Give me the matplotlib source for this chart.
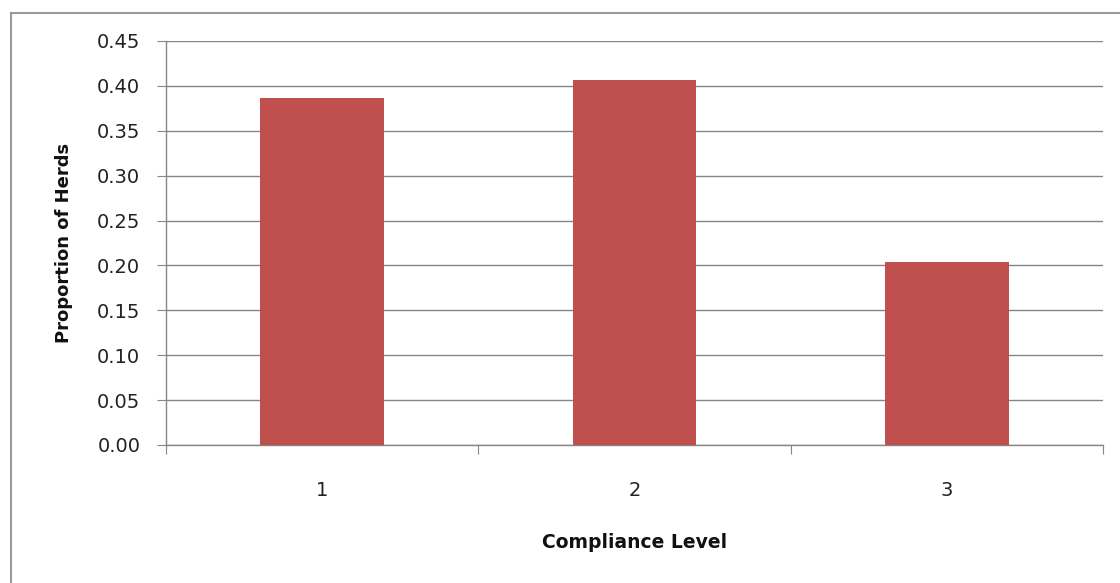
import matplotlib
matplotlib.use("Agg")
import matplotlib.pyplot as plt
from matplotlib.lines import Line2D

categories = ["1", "2", "3"]
values = [0.387, 0.407, 0.204]
yticks = [0.00, 0.05, 0.10, 0.15, 0.20, 0.25, 0.30, 0.35, 0.40, 0.45]

plt.rcParams['font.family'] = ['DejaVu Sans']

W, H = 1120, 583
fig = plt.figure(figsize=(W / 100, H / 100), dpi=100)
ax = fig.add_axes([166 / W, 1 - 445 / H, (1103 - 166) / W, (445 - 41) / H])

x = list(range(len(categories)))
ax.bar(x, values, width=0.395, color="#C0504D", zorder=3)
ax.set_xlim(-0.5, len(categories) - 0.5)
ax.set_ylim(0, 0.45)
ax.set_yticks(yticks)
ax.set_yticklabels([f"{v:.2f}" for v in yticks], fontsize=14, color="#222222")
ax.yaxis.grid(True, color="#868686", linewidth=1.0, zorder=0)

ax.set_xticks([i - 0.5 for i in range(len(categories) + 1)])
ax.set_xticklabels([])
ax.set_xticks(x, minor=True)
ax.set_xticklabels(categories, minor=True, fontsize=14, color="#222222")
ax.tick_params(axis="x", which="minor", length=0, pad=26)
ax.tick_params(axis="x", which="major", length=6.5, color="#868686", direction="out")
ax.tick_params(axis="y", length=6.5, color="#868686", direction="out", pad=12)

for s in ["top", "right"]:
    ax.spines[s].set_visible(False)
for s in ["left", "bottom"]:
    ax.spines[s].set_color("#868686")
    ax.spines[s].set_linewidth(1.0)

ax.set_ylabel("Proportion of Herds", fontsize=13, fontweight="bold", color="#111111", labelpad=17)
ax.set_xlabel("Compliance Level", fontsize=13.5, fontweight="bold", color="#111111", labelpad=24)

# outer chart border (left and top visible)
fig.add_artist(Line2D([10.5 / W, 10.5 / W], [0, 1 - 13 / H], transform=fig.transFigure,
                      color="#9a9a9a", linewidth=1.5))
fig.add_artist(Line2D([10.5 / W, 1], [1 - 13 / H, 1 - 13 / H], transform=fig.transFigure,
                      color="#9a9a9a", linewidth=1.5))

fig.savefig("out.png", dpi=100, facecolor="white")
